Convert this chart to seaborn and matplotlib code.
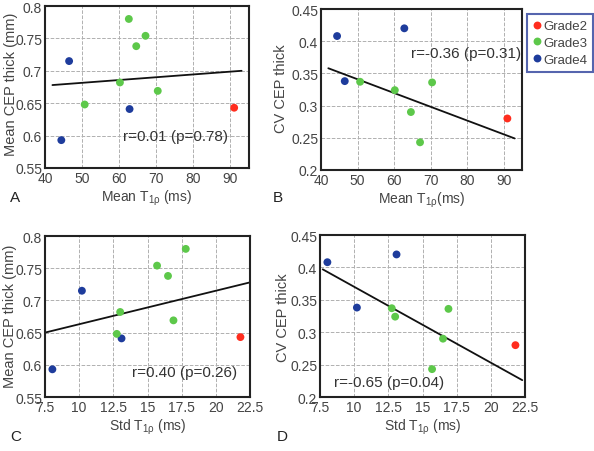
import numpy as np
import pandas as pd
import matplotlib as mpl
mpl.use('Agg')
import matplotlib.pyplot as plt
import seaborn as sns

# per-subject values
grade = ['Grade2', 'Grade4', 'Grade4', 'Grade4', 'Grade3',
         'Grade3', 'Grade3', 'Grade3', 'Grade3', 'Grade3']
mean_t1rho = [91.0, 44.4, 46.5, 62.8, 50.7, 60.2, 62.6, 64.6, 67.1, 70.4]
std_t1rho = [21.8, 8.04, 10.2, 13.1, 12.75, 13.0, 17.8, 16.5, 15.7, 16.9]
mean_thick = [0.643, 0.593, 0.715, 0.641, 0.648, 0.682, 0.780, 0.738, 0.754, 0.669]
cv_thick = [0.280, 0.408, 0.338, 0.420, 0.337, 0.324, np.nan, 0.290, 0.243, 0.336]

# fitted lines (end points)
fit_a_x, fit_a_y = [42, 93], [0.678, 0.700]
fit_b_x, fit_b_y = [42, 93], [0.358, 0.249]
fit_c_x, fit_c_y = [7.5, 22.5], [0.650, 0.728]
fit_d_x, fit_d_y = [7.7, 22.3], [0.397, 0.226]

stats_text = ['r=0.01 (p=0.78)', 'r=-0.36 (p=0.31)', 'r=0.40 (p=0.26)', 'r=-0.65 (p=0.04)']

df = pd.DataFrame({'Grade': grade, 'MeanT': mean_t1rho, 'StdT': std_t1rho,
                   'Thick': mean_thick, 'CV': cv_thick})

palette = {'Grade2': '#ff2d1e', 'Grade3': '#5dc84a', 'Grade4': '#1e3c9c'}
order = ['Grade2', 'Grade3', 'Grade4']

sns.set_style('white')
plt.rcParams['font.family'] = ['Liberation Sans', 'DejaVu Sans']
plt.rcParams['mathtext.default'] = 'regular'
txt = '#444444'

fig = plt.figure(figsize=(5.94, 4.52), dpi=100)
W, H = 594.0, 452.0
def add_ax(l, t, r, b):
    return fig.add_axes([l / W, 1 - b / H, (r - l) / W, (b - t) / H])

ax_a = add_ax(45, 7, 249, 169)
ax_b = add_ax(321, 10, 522, 171)
ax_c = add_ax(45, 237, 250, 398)
ax_d = add_ax(320, 236, 525, 398)

panels = [
    (ax_a, 'MeanT', 'Thick', fit_a_x, fit_a_y, (40, 95), (0.55, 0.8),
     np.arange(40, 91, 10), np.arange(0.55, 0.801, 0.05),
     'Mean T$_{1\\rho}$ (ms)', 'Mean CEP thick (mm)', (61, 0.6), (18, 84)),
    (ax_b, 'MeanT', 'CV', fit_b_x, fit_b_y, (40, 95), (0.2, 0.45),
     np.arange(40, 91, 10), np.arange(0.2, 0.451, 0.05),
     'Mean T$_{1\\rho}$(ms)', 'CV CEP thick', (64.5, 0.381), (288, 89)),
    (ax_c, 'StdT', 'Thick', fit_c_x, fit_c_y, (7.5, 22.5), (0.55, 0.8),
     np.arange(7.5, 22.6, 2.5), np.arange(0.55, 0.801, 0.05),
     'Std T$_{1\\rho}$ (ms)', 'Mean CEP thick (mm)', (13.9, 0.589), (17, 316)),
    (ax_d, 'StdT', 'CV', fit_d_x, fit_d_y, (7.5, 22.5), (0.2, 0.45),
     np.arange(7.5, 22.6, 2.5), np.arange(0.2, 0.451, 0.05),
     'Std T$_{1\\rho}$ (ms)', 'CV CEP thick', (8.5, 0.223), (290, 318)),
]

for i, (ax, xc, yc, fx, fy, xl, yl, xt, yt, xlab, ylab, tpos, lpos) in enumerate(panels):
    sns.lineplot(x=fx, y=fy, ax=ax, color='#111111', lw=1.3, zorder=2)
    sns.scatterplot(data=df, x=xc, y=yc, hue='Grade', hue_order=order,
                    palette=palette, s=32, linewidth=0, ax=ax, zorder=3,
                    legend=(i == 1))
    ax.set_xlim(*xl)
    ax.set_ylim(*yl)
    ax.set_xticks(xt)
    ax.set_yticks(yt)
    ax.set_xticklabels(['{:g}'.format(v) for v in xt])
    ax.set_yticklabels(['{:g}'.format(round(v, 2)) for v in yt])
    ax.grid(True, ls='--', color='#b0b0b0', lw=0.7)
    ax.set_axisbelow(True)
    for sp in ax.spines.values():
        sp.set_color('#222222')
        sp.set_linewidth(1.5)
    ax.tick_params(labelsize=10, colors=txt, length=0, pad=2)
    ax.set_xlabel(xlab, fontsize=10, color=txt, labelpad=2)
    ax.set_ylabel(ylab, fontsize=10.5, color=txt)
    ax.yaxis.set_label_coords(lpos[0] / W, 1 - lpos[1] / H, transform=fig.transFigure)
    ax.text(tpos[0], tpos[1], stats_text[i], fontsize=11, color='#333333', va='center')

# legend for panel B, outside on the right
leg = ax_b.legend(loc='upper left', bbox_to_anchor=(527 / W, 1 - 15 / H),
                  bbox_transform=fig.transFigure, frameon=True, fontsize=9.5,
                  handletextpad=0.2, borderpad=0.45, borderaxespad=0,
                  labelspacing=0.35, handlelength=0.6, fancybox=False)
leg.get_frame().set_edgecolor('#2a3f9a')
leg.get_frame().set_linewidth(1.5)
for t in leg.get_texts():
    t.set_color(txt)

for lab, x, y in [('A', 10, 198), ('B', 273, 198), ('C', 10, 437), ('D', 277, 437)]:
    fig.text(x / W, 1 - y / H, lab, fontsize=11, color='#222222', va='center')

fig.savefig('out.png', dpi=100)
